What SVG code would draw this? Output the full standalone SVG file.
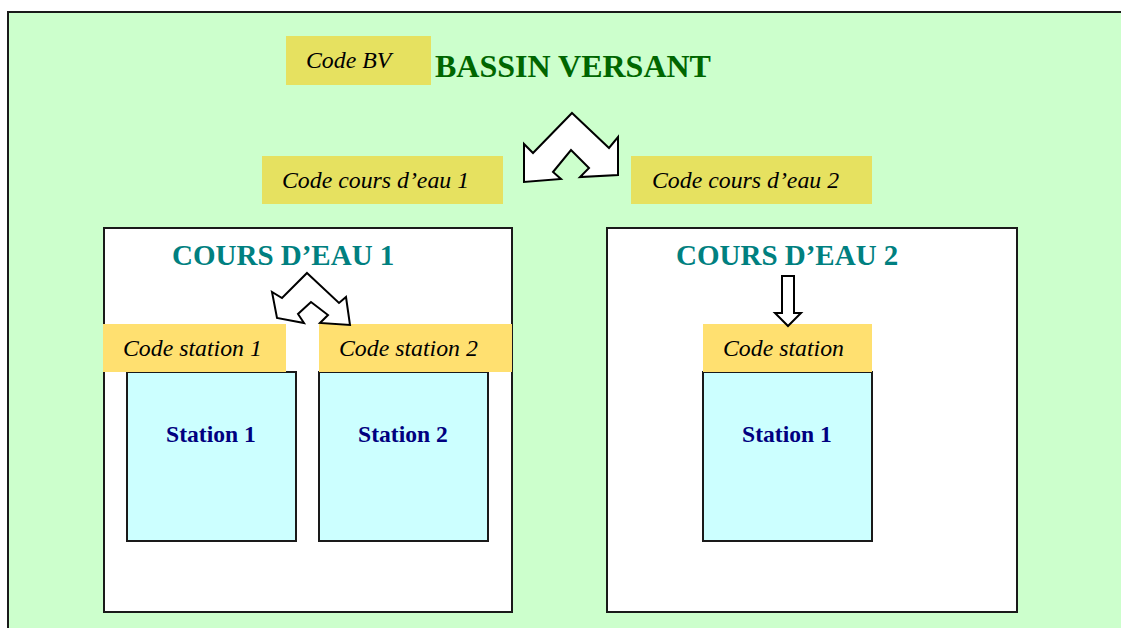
<svg xmlns="http://www.w3.org/2000/svg" width="1121" height="628" viewBox="0 0 1121 628">
<style>
.code{fill:#e6e160}
.scode{fill:#ffe070}
.it{font-family:"Liberation Serif","Times New Roman",serif;font-style:italic;font-size:23.8px;fill:#000}
.box{fill:#fff;stroke:#1a1a1a;stroke-width:2}
.st{fill:#ccffff;stroke:#1a1a1a;stroke-width:2}
.stt{font-family:"Liberation Serif","Times New Roman",serif;font-weight:bold;font-size:23.6px;fill:#000080;text-anchor:middle}
.ce{font-family:"Liberation Serif","Times New Roman",serif;font-weight:bold;font-size:29px;fill:#008080}
.arr{fill:#fff;stroke:#000;stroke-width:2;stroke-linejoin:miter}
</style>
<rect x="0" y="0" width="1121" height="628" fill="#fff"/>
<g id="bassin">
<rect x="8" y="12" width="1125" height="630" fill="#ccffcc" stroke="#1a1a1a" stroke-width="2"/>
<rect class="code" x="286" y="36" width="145" height="49"/>
<text class="it" x="306" y="68">Code BV</text>
<text x="435" y="77" font-family="Liberation Serif,Times New Roman,serif" font-weight="bold" font-size="32" fill="#006600">BASSIN VERSANT</text>
</g>
<g id="code-cours1">
<rect class="code" x="262" y="156" width="241" height="48"/>
<text class="it" x="282" y="188">Code cours d’eau 1</text>
</g>
<g id="code-cours2">
<rect class="code" x="631" y="156" width="241" height="48"/>
<text class="it" x="652" y="188">Code cours d’eau 2</text>
</g>
<g id="cours1">
<rect class="box" x="104" y="228" width="408" height="384"/>
<text class="ce" x="172" y="265">COURS D’EAU 1</text>
</g>
<g id="cours2">
<rect class="box" x="607" y="228" width="410" height="384"/>
<text class="ce" x="676" y="265">COURS D’EAU 2</text>
</g>
<g id="station1a">
<rect class="st" x="127" y="372" width="169" height="169"/>
<rect class="scode" x="103" y="324" width="183" height="48"/>
<text class="it" x="123" y="356">Code station 1</text>
<text class="stt" x="211" y="442">Station 1</text>
</g>
<g id="station2a">
<rect class="st" x="319" y="372" width="169" height="169"/>
<rect class="scode" x="319" y="324" width="193" height="48"/>
<text class="it" x="339" y="356">Code station 2</text>
<text class="stt" x="403" y="442">Station 2</text>
</g>
<g id="station1b">
<rect class="st" x="703" y="372" width="169" height="169"/>
<rect class="scode" x="703" y="324" width="169" height="48"/>
<text class="it" x="723" y="356">Code station</text>
<text class="stt" x="787" y="442">Station 1</text>
</g>
<g id="connectors">
<polygon class="arr" points="572,113 609,148 618,137 618,175 580,177 589,168 571,150 553,172 561,179 524,182 524,144 533,153"/>
<polygon class="arr" points="307,273 339,303 346,297 350,325 320,323 328,315 311,302 298,314 304,323 277,318 272,292 282,298"/>
<polygon class="arr" points="782,276 794,276 794,313 801,313 788,326 775,313 782,313"/>
</g>
</svg>
